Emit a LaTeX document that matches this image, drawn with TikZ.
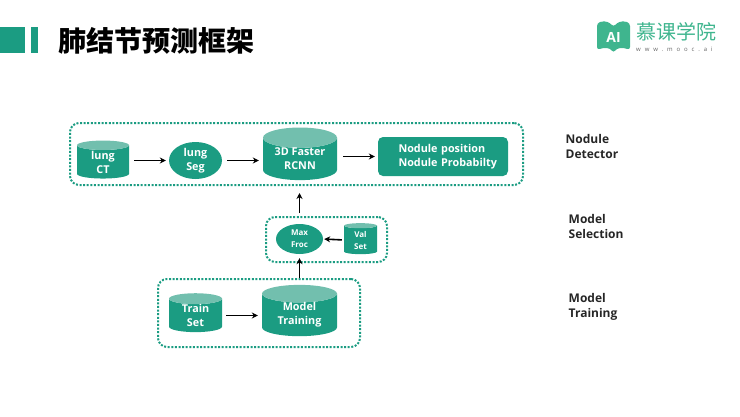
\documentclass[tikz,border=0pt]{standalone}
\usepackage{fontspec}
\setmainfont{Open Sans}
\newfontfamily\cjk{Noto Sans CJK SC}
\newfontfamily\urlfont[LetterSpace=65]{Open Sans}
\usetikzlibrary{arrows.meta, positioning, shapes.geometric}
\definecolor{teal1}{HTML}{1B9C82}
\definecolor{teal2}{HTML}{72BFAE}
\definecolor{logogreen}{HTML}{3FB58E}

\begin{document}
\begin{tikzpicture}[
    x=1pt, y=-1pt, >={Stealth[length=6pt, width=6pt]},
    base/.style={text=white, inner sep=0pt, align=center,
        font=\fontsize{10.8}{14}\selectfont\bfseries},
    drum/.style={base, cylinder, shape border rotate=90, draw=none, cylinder uses custom fill,
        cylinder body fill=teal1, cylinder end fill=teal2, aspect=0.4},
    blob/.style={base, ellipse, fill=teal1},
    group/.style={draw=teal1, line width=2pt, dash pattern=on 2pt off 1.6pt,
        rounded corners=9pt, minimum width=#1},
    side/.style={anchor=west, align=left, inner sep=0pt, text=black!85,
        font=\fontsize{12}{15}\selectfont\bfseries},
    flow/.style={->, line width=1.6pt, black}
  ]
  \useasboundingbox (0,0) rectangle (740,416);

  % header
  \fill[teal1] (0,27) rectangle (25,53);
  \fill[teal1] (30.5,27) rectangle (37.5,53);
  \node[anchor=west, inner sep=0pt, font=\cjk\fontsize{28}{30}\selectfont\bfseries] (title) at (58,40.5)
    {肺结节预测框架};

  % logo
  \fill[logogreen, rounded corners=3pt] (597,23) .. controls (606,20) and (610,23) .. (613.5,27)
    .. controls (617,23) and (621,20) .. (630,23) -- (630,50)
    .. controls (622,47) and (617,48) .. (613.5,53) .. controls (610,48) and (605,47) .. (597,50) -- cycle;
  \node[text=white, inner sep=0pt, font=\fontsize{14}{15}\selectfont\bfseries] (logoai) at (613.5,37.5) {AI};
  \node[anchor=west, inner sep=0pt, text=logogreen, font=\cjk\fontsize{20}{22}\selectfont] (logoname) at (636,32)
    {慕课学院};
  \node[anchor=west, inner sep=0pt, text=black!60, font=\urlfont\fontsize{6}{7}\selectfont] (logourl) at (636,49.5)
    {www.mooc.ai};

  % detector row
  \node[group=453pt, minimum height=62pt] (detbox) at (296.5,154) {};
  \node[drum, minimum width=52pt, minimum height=38pt] (ct) at (103,162) {lung\\CT};
  \node[blob, minimum width=53pt, minimum height=37pt] (seg) at (195.5,160.5) {lung\\Seg};
  \node[drum, minimum width=74pt, minimum height=48pt] (rcnn) at (300,159) {3D Faster\\RCNN};
  \node[base, fill=teal1, rounded corners=5pt, minimum width=130pt, minimum height=39pt,
        text width=118pt, align=left] (out) at (443,156.5)
    {\hspace*{14.5pt}Nodule position\\\hspace*{14.5pt}Nodule Probabilty};
  \draw[flow, shorten <=5pt, shorten >=3pt] (ct.east |- seg.west) -- (seg.west);
  \draw[flow, shorten <=5pt, shorten >=4pt] (seg.east) -- (seg.east -| rcnn.west);
  \draw[flow, shorten <=6pt, shorten >=3pt] (rcnn.east |- out.west) -- (out.west);

  % selection row
  \node[group=121pt, minimum height=45pt] (selbox) at (326.5,239.5) {};
  \node[blob, minimum width=47pt, minimum height=30pt,
        font=\fontsize{8}{12}\selectfont\bfseries] (froc) at (299.5,239) {Max\\Froc};
  \node[drum, minimum width=33pt, minimum height=31pt,
        font=\fontsize{8}{12}\selectfont\bfseries] (val) at (360.5,240) {Val\\Set};
  \draw[flow, shorten <=2pt, shorten >=1pt] (val.west) -- (froc.east);

  % training row
  \node[group=202pt, minimum height=68pt] (trainbox) at (259,313) {};
  \node[drum, minimum width=53pt, minimum height=33pt] (train) at (195.5,315.5) {Train\\Set};
  \node[drum, minimum width=75pt, minimum height=48pt] (model) at (299.5,315) {Model\\Training};
  \draw[flow, shorten <=4pt, shorten >=4pt] (train.east) -- (train.east -| model.west);

  % between rows
  \draw[flow, shorten <=3pt, shorten >=7pt] (froc.north |- selbox.north) -- (froc.north |- detbox.south);
  \draw[flow, shorten >=4pt] (froc.south |- trainbox.north) -- (froc.south);

  % row names
  \node[side] (detname) at (565.5,146.5) {Nodule\\Detector};
  \node[side] (selname) at (568.5,226.5) {Model\\Selection};
  \node[side] (trainname) at (568.5,306.5) {Model\\Training};
\end{tikzpicture}
\end{document}
